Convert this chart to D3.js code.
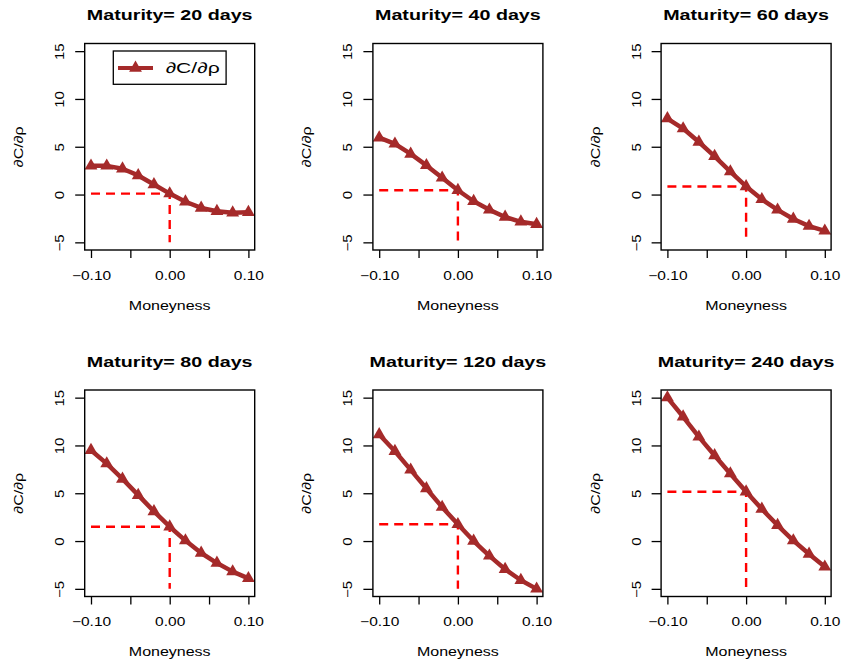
<!DOCTYPE html>
<html>
<head>
<meta charset="utf-8">
<script src="https://cdn.jsdelivr.net/npm/d3@7"></script>
<style>
  body { margin: 0; background: #fff; }
  svg { display: block; font-family: "Liberation Sans", Arial, sans-serif; }
</style>
</head>
<body>
<div id="chart"></div>
<script>
// data
const moneyness = [-0.10, -0.08, -0.06, -0.04, -0.02, 0.00, 0.02, 0.04, 0.06, 0.08, 0.10]
const maturities = [20, 40, 60, 80, 120, 240]
const rho20  = [3.0, 3.0, 2.7, 2.0, 1.05, 0.1, -0.75, -1.4, -1.75, -1.9, -1.85]
const rho40  = [5.95, 5.3, 4.25, 3.05, 1.75, 0.45, -0.7, -1.6, -2.35, -2.85, -3.1]
const rho60  = [7.95, 6.9, 5.5, 4.0, 2.4, 0.85, -0.5, -1.6, -2.55, -3.3, -3.8]
const rho80  = [9.5, 8.1, 6.5, 4.8, 3.1, 1.5, 0.05, -1.25, -2.3, -3.2, -3.9]
const rho120 = [11.15, 9.4, 7.45, 5.5, 3.55, 1.75, 0.0, -1.55, -2.95, -4.1, -5.0]
const rho240 = [15.0, 13.0, 10.9, 8.95, 7.05, 5.15, 3.35, 1.65, 0.05, -1.35, -2.7]
const series = [rho20, rho40, rho60, rho80, rho120, rho240]

const xTicks = [-0.10, -0.05, 0.00, 0.05, 0.10]
const xLabelled = [-0.10, 0.00, 0.10]
const yTicks = [-5, 0, 5, 10, 15]

const WIDTH = 843, HEIGHT = 662
const PANEL = { LEFT: 84.7, TOP: 43.5, W: 170, H: 206.5, DX: 288.2, DY: 346.5 }
const LINE_COL = "#a52a2a"
const minus = s => s.replace("-", "\u2212")

const svg = d3.select("#chart").append("svg")
  .attr("width", WIDTH)
  .attr("height", HEIGHT)

// stretch text a bit wider, the reference font is wider than Liberation Sans
function stretch(sel, factor) {
  sel.each(function () {
    const len = this.getComputedTextLength()
    d3.select(this)
      .attr("textLength", len * factor)
      .attr("lengthAdjust", "spacingAndGlyphs")
  })
}

const x = d3.scaleLinear().domain([-0.108, 0.108]).range([0, PANEL.W])
const y = d3.scaleLinear().domain([-5.8, 15.8]).range([PANEL.H, 0])

const line = d3.line()
  .x(d => x(d[0]))
  .y(d => y(d[1]))

const tri = d3.symbol().type(d3.symbolTriangle).size(72)

series.forEach((vals, i) => {
  const col = i % 3, row = Math.floor(i / 3)
  const g = svg.append("g")
    .attr("transform", `translate(${PANEL.LEFT + col * PANEL.DX}, ${PANEL.TOP + row * PANEL.DY})`)

  const pts = moneyness.map((m, j) => [m, vals[j]])
  const atm = vals[moneyness.indexOf(0)]

  // dashed guide lines at moneyness 0
  g.append("path")
    .attr("d", d3.line()([[x(-0.10), y(atm)], [x(0), y(atm)], [x(0), y(-5)]]))
    .attr("fill", "none")
    .attr("stroke", "#ff0000")
    .attr("stroke-width", 2.4)
    .attr("stroke-dasharray", "9,6")

  g.append("path")
    .datum(pts)
    .attr("d", line)
    .attr("fill", "none")
    .attr("stroke", LINE_COL)
    .attr("stroke-width", 4.5)
    .attr("stroke-linejoin", "round")

  g.selectAll("path.pt")
    .data(pts)
    .enter().append("path")
    .attr("class", "pt")
    .attr("d", tri)
    .attr("transform", d => `translate(${x(d[0])}, ${y(d[1])})`)
    .attr("fill", LINE_COL)

  // box
  g.append("rect")
    .attr("width", PANEL.W)
    .attr("height", PANEL.H)
    .attr("fill", "none")
    .attr("stroke", "#000")
    .attr("stroke-width", 1.4)

  // X Axis
  const xAxis = g.append("g")
    .attr("transform", `translate(0, ${PANEL.H})`)
    .call(d3.axisBottom(x).tickValues(xTicks).tickSize(8).tickSizeOuter(0)
      .tickFormat(d => xLabelled.includes(d) ? minus(d3.format(".2f")(d)) : ""))
  xAxis.select(".domain").remove()
  xAxis.selectAll("line").attr("stroke-width", 1.3)
  xAxis.selectAll("text")
    .attr("y", 29.5).attr("dy", null)
    .attr("font-size", "12.3px")
    .attr("font-family", null)
    .attr("fill", "#000")
    .call(stretch, 1.26)

  // Y Axis (tick groups are already translated to y(d))
  const yAxis = g.append("g")
    .call(d3.axisLeft(y).tickValues(yTicks).tickSize(9.5).tickSizeOuter(0)
      .tickFormat(d => minus(String(d))))
  yAxis.select(".domain").remove()
  yAxis.selectAll("line").attr("stroke-width", 1.3)
  yAxis.selectAll("text")
    .attr("x", null).attr("dy", null)
    .attr("text-anchor", "middle")
    .attr("transform", "translate(-20.5, 0) rotate(-90)")
    .attr("font-size", "12.3px")
    .attr("font-family", null)
    .attr("fill", "#000")
    .call(stretch, 1.22)

  // Title
  g.append("text")
    .attr("x", PANEL.W / 2)
    .attr("y", -23.5)
    .attr("text-anchor", "middle")
    .attr("font-size", "15.5px")
    .attr("font-weight", "bold")
    .text(`Maturity= ${maturities[i]} days`)
    .call(stretch, 1.27)

  // X Label
  g.append("text")
    .attr("x", PANEL.W / 2)
    .attr("y", PANEL.H + 59.5)
    .attr("text-anchor", "middle")
    .attr("font-size", "13px")
    .text("Moneyness")
    .call(stretch, 1.23)

  // Y Label
  g.append("text")
    .attr("transform", `translate(-61.5, ${PANEL.H / 2}) rotate(-90)`)
    .attr("text-anchor", "middle")
    .attr("font-size", "13px")
    .attr("textLength", 41)
    .attr("lengthAdjust", "spacingAndGlyphs")
    .text("\u2202C/\u2202\u03c1")

  // Legend, first panel only
  if (i === 0) {
    const lg = g.append("g")
      .attr("transform", `translate(${PANEL.W / 2 - 56.4}, 7.5)`)
    lg.append("rect")
      .attr("width", 112.8)
      .attr("height", 33.3)
      .attr("fill", "#fff")
      .attr("stroke", "#000")
      .attr("stroke-width", 1.3)
    lg.append("line")
      .attr("x1", 4.7).attr("x2", 39.7)
      .attr("y1", 17).attr("y2", 17)
      .attr("stroke", LINE_COL)
      .attr("stroke-width", 4)
    lg.append("path")
      .attr("d", tri)
      .attr("transform", "translate(22.2, 17)")
      .attr("fill", LINE_COL)
    lg.append("text")
      .attr("x", 52.4)
      .attr("y", 22)
      .attr("font-size", "15px")
      .attr("textLength", 54)
      .attr("lengthAdjust", "spacingAndGlyphs")
      .text("\u2202C/\u2202\u03c1")
  }
})
</script>
</body>
</html>
